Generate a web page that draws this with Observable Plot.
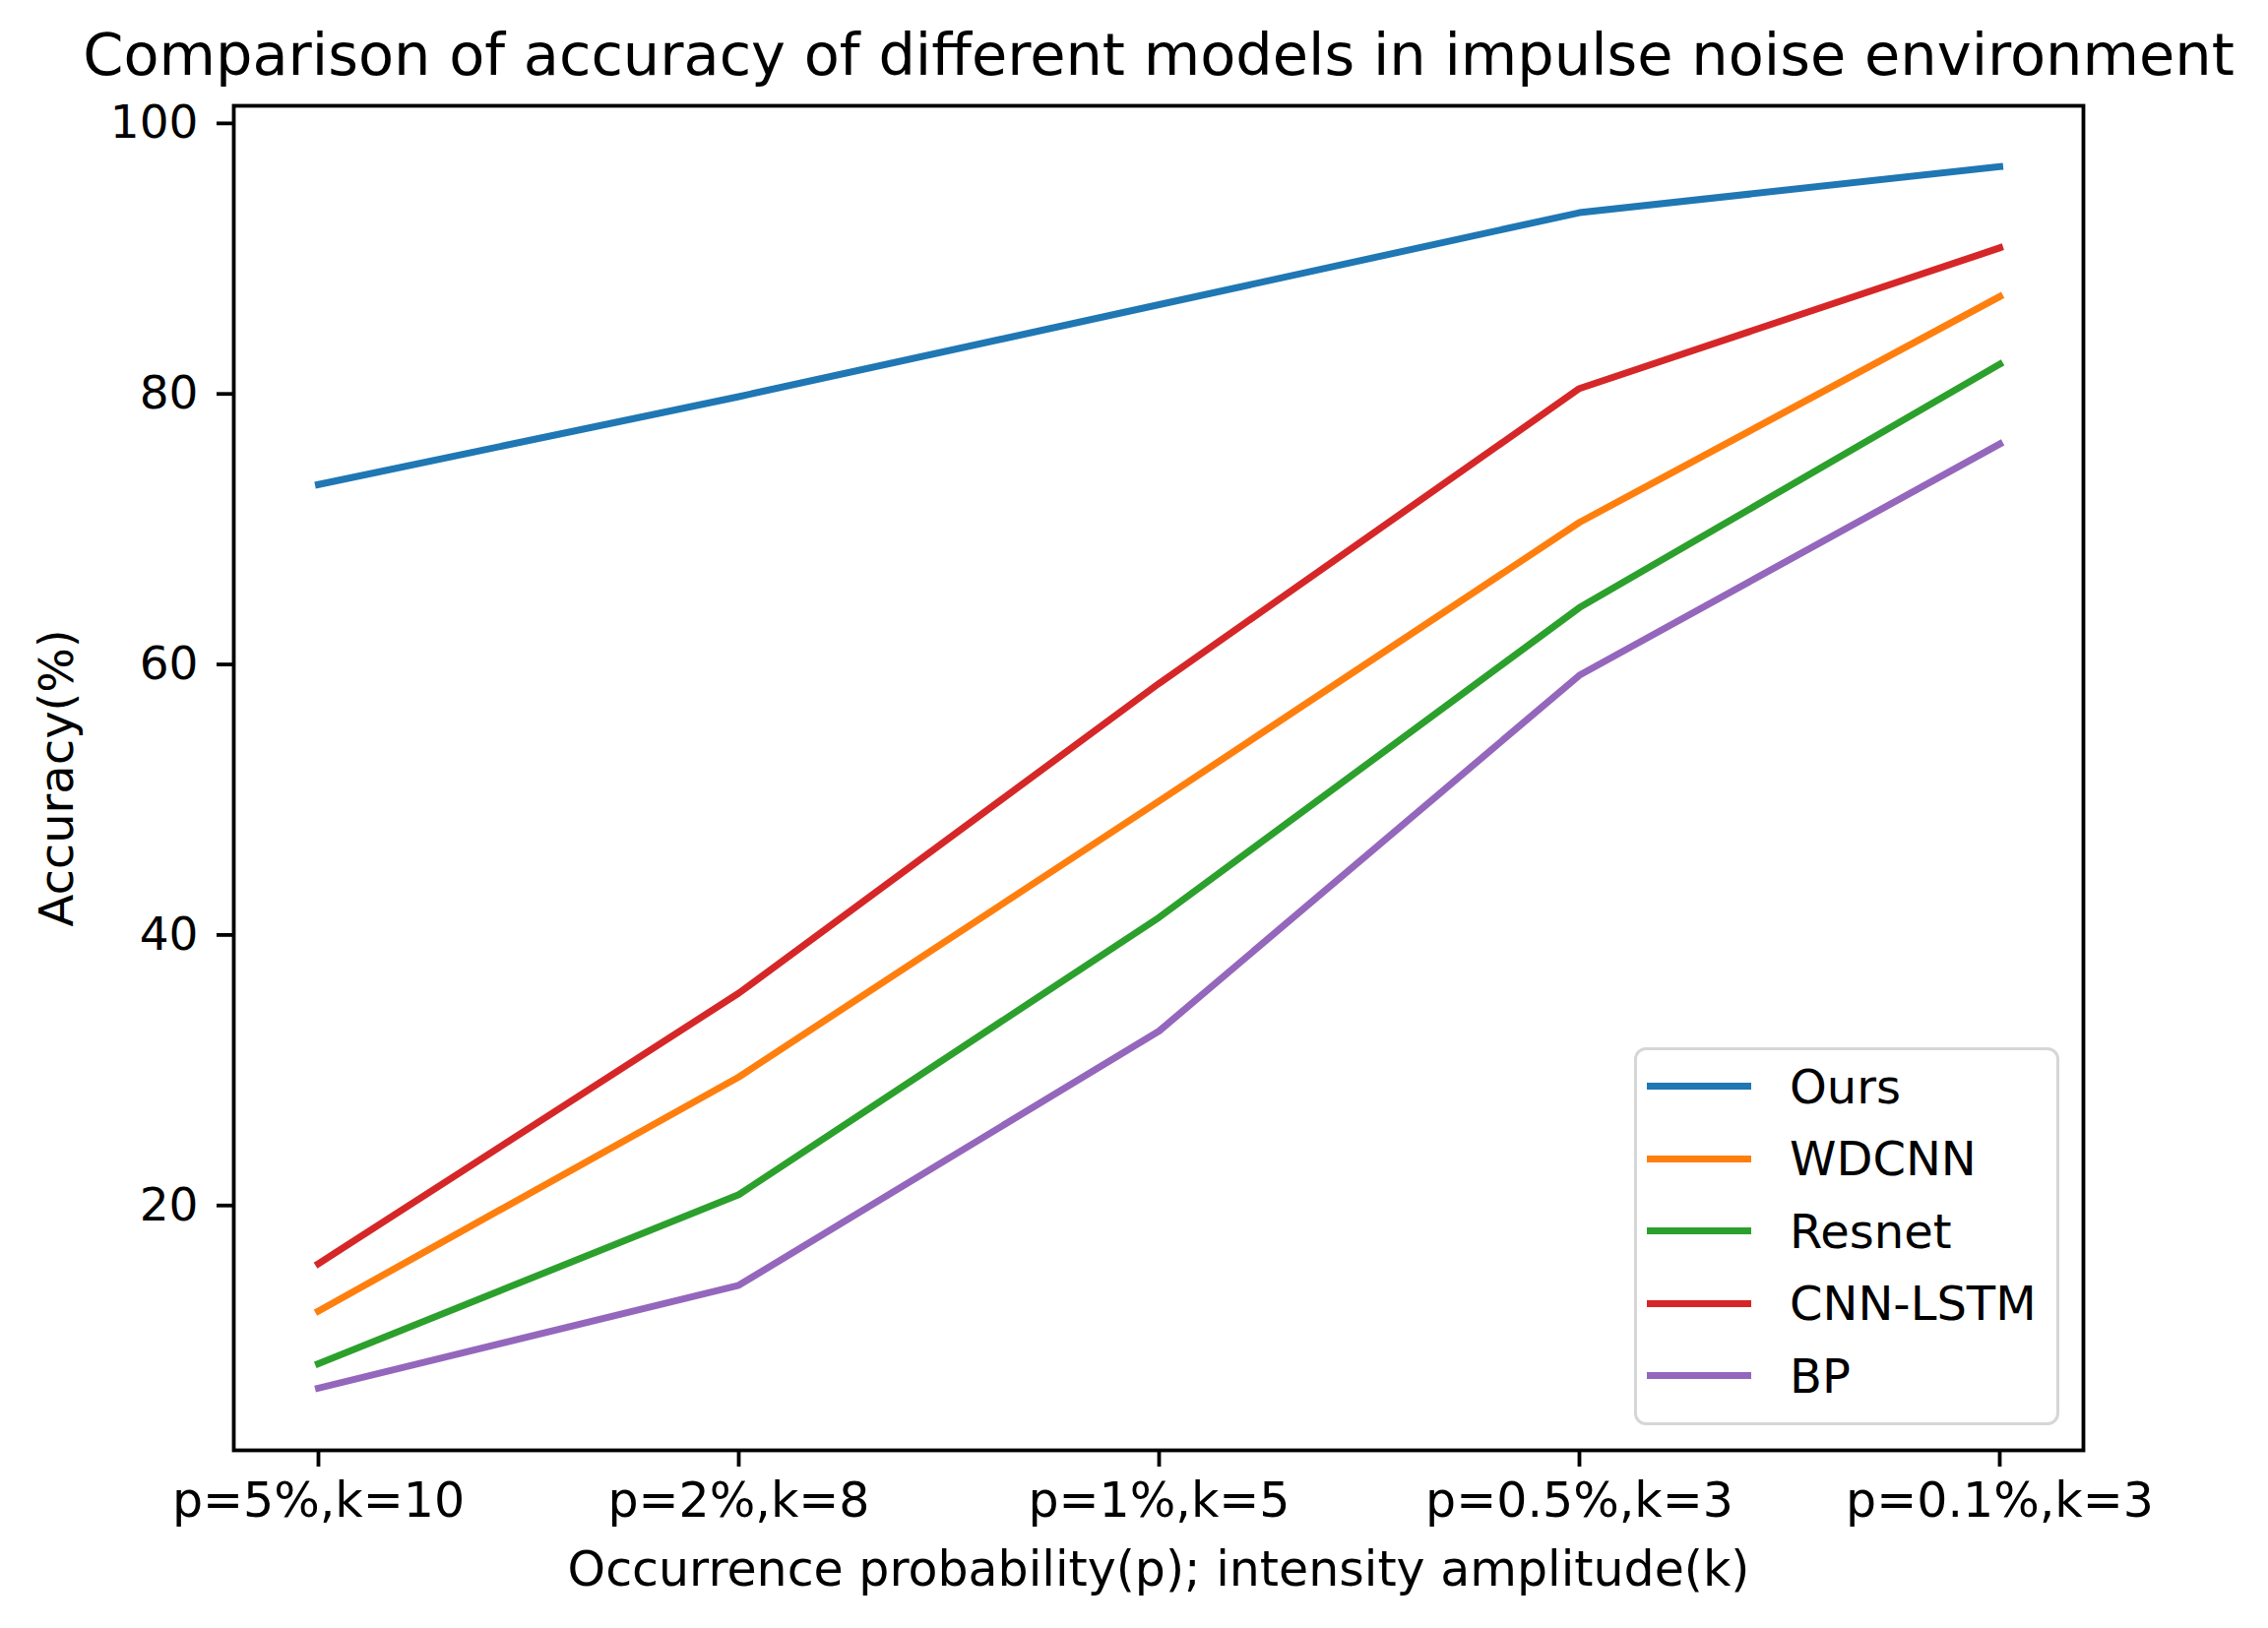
<!DOCTYPE html>
<html>
<head>
<meta charset="utf-8">
<script src="https://cdn.jsdelivr.net/npm/d3@7"></script>
<script src="https://cdn.jsdelivr.net/npm/@observablehq/plot@0.6"></script>
<style>
  html, body { margin: 0; padding: 0; background: #fff; }
  #wrap { position: relative; width: 2304px; height: 1654px; font-family: "DejaVu Sans", sans-serif; }
  #legend {
    position: absolute; left: 1660px; top: 1064px; width: 426px; height: 378px;
    border: 3px solid #d6d6d6; border-radius: 12px; background: rgba(255,255,255,0.8);
    box-sizing: content-box;
  }
  .row { height: 73.5px; display: flex; align-items: center; }
  .sw { width: 106px; height: 7px; margin-left: 10px; margin-right: 39px; }
  .lab { font-size: 48px; color: #000; line-height: 1; }
</style>
</head>
<body>
<div id="wrap"></div>
<script>
const categories = ["p=5%,k=10", "p=2%,k=8", "p=1%,k=5", "p=0.5%,k=3", "p=0.1%,k=3"];
const models = ["Ours", "WDCNN", "Resnet", "CNN-LSTM", "BP"];
const colors = ["#1f77b4", "#ff7f0e", "#2ca02c", "#d62728", "#9467bd"];
const ours    = [73.3, 79.8, 86.6, 93.4, 96.8];
const wdcnn   = [12.2, 29.5, 49.9, 70.5, 87.2];
const resnet  = [8.3, 20.8, 41.3, 64.2, 82.2];
const cnnlstm = [15.7, 35.7, 58.6, 80.4, 90.8];
const bp      = [6.5, 14.1, 32.9, 59.2, 76.3];
const yTicks = [20, 40, 60, 80, 100];
const title = "Comparison of accuracy of different models in impulse noise environment";
const xLabel = "Occurrence probability(p); intensity amplitude(k)";
const yLabel = "Accuracy(%)";

const series = [ours, wdcnn, resnet, cnnlstm, bp];
const rows = [];
models.forEach((m, i) => categories.forEach((c, j) => rows.push({model: m, cat: c, value: series[i][j]})));

const W = 2304, H = 1654;
const mL = 237, mT = 107, mR = W - 2116, mB = H - 1473;

const chart = Plot.plot({
  width: W, height: H,
  marginLeft: mL, marginTop: mT, marginRight: mR, marginBottom: mB,
  style: {fontFamily: "DejaVu Sans, sans-serif", background: "#fff", color: "#000"},
  x: {type: "point", domain: categories, padding: 0.2},
  y: {domain: [1.9, 101.3]},
  color: {domain: models, range: colors},
  marks: [
    Plot.lineY(rows, {x: "cat", y: "value", stroke: "model", z: "model", strokeWidth: 7,
      strokeLinecap: "square", strokeLinejoin: "round"}),
    Plot.frame({stroke: "#000", strokeWidth: 3.8}),
    Plot.axisX({fontSize: 49, tickSize: 17, tickPadding: 16, strokeWidth: 3.8, label: null}),
    Plot.axisY({ticks: yTicks, fontSize: 47, tickSize: 17, tickPadding: 19, strokeWidth: 3.8, label: null}),
    Plot.text([title], {text: d => d, frameAnchor: "top", dy: -50, lineAnchor: "middle", fontSize: 59}),
    Plot.text([xLabel], {text: d => d, frameAnchor: "bottom", dy: 122, lineAnchor: "middle", fontSize: 49}),
    Plot.text([yLabel], {text: d => d, frameAnchor: "left", dx: -179, rotate: -90, textAnchor: "middle", lineAnchor: "middle", fontSize: 48})
  ]
});
const wrap = document.getElementById("wrap");
wrap.appendChild(chart);

const leg = document.createElement("div");
leg.id = "legend";
models.forEach((m, i) => {
  const r = document.createElement("div"); r.className = "row";
  const s = document.createElement("div"); s.className = "sw"; s.style.background = colors[i];
  const t = document.createElement("span"); t.className = "lab"; t.textContent = m;
  r.appendChild(s); r.appendChild(t); leg.appendChild(r);
});
wrap.appendChild(leg);
</script>
</body>
</html>
